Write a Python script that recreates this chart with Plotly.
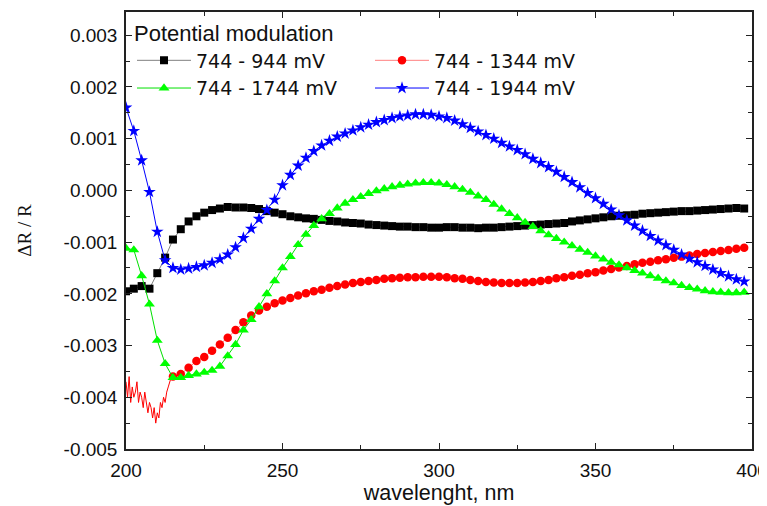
import numpy as np
import plotly.graph_objects as go

# wavelength grid (nm)
wl = np.arange(200, 400, 2.5)
wl_red_noise = np.arange(200, 215, 0.5)
wl_red = np.arange(215, 400, 2.5)

names = ["744 - 944 mV", "744 - 1344 mV", "744 - 1744 mV", "744 - 1944 mV"]
legend_title = "Potential modulation"

black = [
    -0.00195, -0.0019, -0.00185, -0.0019, -0.0016, -0.0013, -0.00095, -0.00075,
    -0.0006, -0.0005, -0.00043, -0.00038, -0.00035, -0.00032, -0.00033, -0.00033,
    -0.00034, -0.00036, -0.0004, -0.00043, -0.00046, -0.0005, -0.00052, -0.00054,
    -0.00055, -0.00057, -0.00059, -0.0006, -0.00062, -0.00063, -0.00064, -0.00066,
    -0.00067, -0.00068, -0.00069, -0.0007, -0.0007, -0.00071, -0.00071, -0.00072,
    -0.00072, -0.00071, -0.00071, -0.00072, -0.00072, -0.00073, -0.00072, -0.00072,
    -0.00071, -0.0007, -0.00069, -0.00068, -0.00067, -0.00066, -0.00065, -0.00064,
    -0.00063, -0.0006, -0.00058, -0.00056, -0.00054, -0.00052, -0.0005, -0.00049,
    -0.00048, -0.00047, -0.00045, -0.00044, -0.00043, -0.00042, -0.00041, -0.0004,
    -0.0004, -0.00039, -0.00038, -0.00037, -0.00036, -0.00035, -0.00034, -0.00035,
]

red_noise = [
    -0.0037, -0.0040, -0.0036, -0.0041, -0.0038, -0.0040, -0.0039, -0.0037,
    -0.0041, -0.0039, -0.0040, -0.0042, -0.0039, -0.0041, -0.0043, -0.0041,
    -0.0042, -0.0044, -0.0042, -0.0045, -0.0043, -0.0044, -0.0041, -0.0042,
    -0.0040, -0.0041, -0.0039, -0.0038, -0.0037, -0.0036,
]

red = [
    -0.0036, -0.00355, -0.00343, -0.0033, -0.00322, -0.0031, -0.00298, -0.00285,
    -0.0027, -0.00255, -0.00242, -0.00232, -0.00225, -0.00218, -0.00213, -0.00208,
    -0.00203, -0.00199, -0.00195, -0.00192, -0.00188, -0.00185, -0.00182, -0.00179,
    -0.00177, -0.00175, -0.00173, -0.00171, -0.0017, -0.00169, -0.00168, -0.00168,
    -0.00167, -0.00167, -0.00167, -0.00168, -0.0017, -0.00171, -0.00173, -0.00175,
    -0.00177, -0.00178, -0.00179, -0.00179, -0.00179, -0.00178, -0.00177, -0.00175,
    -0.00173, -0.0017, -0.00168, -0.00165, -0.00163, -0.0016, -0.00158, -0.00155,
    -0.00152, -0.00149, -0.00146, -0.00143, -0.0014, -0.00138, -0.00135, -0.00133,
    -0.0013, -0.00128, -0.00126, -0.00123, -0.00121, -0.00119, -0.00117, -0.00115,
    -0.00113, -0.00111,
]

green = [
    -0.00112, -0.00115, -0.00165, -0.0022, -0.0029, -0.00335, -0.00362, -0.00362,
    -0.00358, -0.00355, -0.00352, -0.00348, -0.0034, -0.0032, -0.00298, -0.0027,
    -0.0025, -0.00225, -0.002, -0.00175, -0.0015, -0.00128, -0.00105, -0.00085,
    -0.00068, -0.00055, -0.00045, -0.00034, -0.00025, -0.00018, -0.00012, -0.00006,
    -0.00001, 0.00003, 0.00007, 0.0001, 0.00012, 0.00014, 0.00015, 0.00015,
    0.00014, 0.00011, 0.00007, 0.00002, -0.00004, -0.00011, -0.00018, -0.00027,
    -0.00036, -0.00045, -0.00053, -0.00062, -0.0007, -0.00078, -0.00086, -0.00093,
    -0.001, -0.00107, -0.00114, -0.0012, -0.00127, -0.00133, -0.00139, -0.00144,
    -0.0015, -0.00155, -0.0016, -0.00165, -0.0017, -0.00175, -0.00179, -0.00184,
    -0.00188, -0.00191, -0.00194, -0.00196, -0.00197, -0.00198, -0.00198, -0.00197,
]

blue = [
    0.0016, 0.00115, 0.00058, -0.00003, -0.0008, -0.00135, -0.0015, -0.00153,
    -0.00151, -0.00148, -0.00145, -0.0014, -0.00133, -0.00124, -0.0011, -0.00092,
    -0.00074, -0.00055, -0.00038, -0.00018, 0.0001, 0.0003, 0.00048, 0.00063,
    0.00076, 0.00087, 0.00096, 0.00104, 0.0011, 0.00116, 0.00122, 0.00127,
    0.00132, 0.00136, 0.0014, 0.00143, 0.00145, 0.00147, 0.00147, 0.00146,
    0.00143, 0.0014, 0.00135, 0.00128, 0.00121, 0.00114, 0.00107, 0.001,
    0.00092, 0.00085, 0.00078, 0.0007, 0.00061, 0.00053, 0.00045, 0.00036,
    0.00026, 0.00016, 0.00006, -0.00005, -0.00015, -0.00026, -0.00037, -0.00048,
    -0.00058, -0.00068, -0.00078, -0.00088, -0.00097, -0.00106, -0.00115, -0.00124,
    -0.00132, -0.00139, -0.00146, -0.00153, -0.0016, -0.00166, -0.00172, -0.00176,
]

y_tickvals = [-0.005, -0.004, -0.003, -0.002, -0.001, 0.0, 0.001, 0.002, 0.003]
y_ticktext = ["-0.005", "-0.004", "-0.003", "-0.002", "-0.001", "0.000", "0.001", "0.002", "0.003"]
x_tickvals = [200, 250, 300, 350, 400]
x_ticktext = ["200", "250", "300", "350", "400"]

SANS = "Liberation Sans, Arial, sans-serif"
LEG = "DejaVu Sans, Liberation Sans, sans-serif"
SERIF = "Liberation Serif, Times New Roman, serif"

fig = go.Figure()

fig.add_trace(go.Scatter(
    x=wl, y=black, name=names[0], mode="lines+markers",
    line=dict(color="#808080", width=1),
    marker=dict(symbol="square", size=8, color="#000000"),
))
# noisy short-wavelength part of the red curve (thin line only)
fig.add_trace(go.Scatter(
    x=list(wl_red_noise) + [wl_red[0]], y=red_noise + [red[0]],
    mode="lines", line=dict(color="#ff0000", width=1),
    showlegend=False, hoverinfo="skip",
))
fig.add_trace(go.Scatter(
    x=wl_red, y=red, name=names[1], mode="lines+markers",
    line=dict(color="#ff8080", width=1),
    marker=dict(symbol="circle", size=8.5, color="#ff0000"),
))
fig.add_trace(go.Scatter(
    x=wl, y=green, name=names[2], mode="lines+markers",
    line=dict(color="#00e000", width=1),
    marker=dict(symbol="triangle-up", size=9.5, color="#00ff00"),
))
fig.add_trace(go.Scatter(
    x=wl, y=blue, name=names[3], mode="lines+markers",
    line=dict(color="#0000ff", width=1),
    marker=dict(symbol="star", size=9.5, color="#0000ff"),
))

axis_common = dict(
    showline=True, linewidth=1.5, linecolor="#222222", mirror="ticks",
    ticks="inside", ticklen=6, tickwidth=1.2, tickcolor="#222222",
    showgrid=False, zeroline=False,
    tickfont=dict(family=SANS, size=19, color="#111111"),
)

fig.update_xaxes(
    range=[200, 400], tickvals=x_tickvals, ticktext=x_ticktext,
    ticklabelstandoff=3, ticklabeloverflow="allow",
    minor=dict(dtick=25, tick0=200, ticks="inside", ticklen=4, tickcolor="#222222", showgrid=False),
    title=dict(text="wavelenght, nm", standoff=0,
               font=dict(family=SANS, size=21.5, color="#111111")),
    **axis_common,
)
fig.update_yaxes(
    range=[-0.005, 0.00345], tickvals=y_tickvals, ticktext=y_ticktext,
    ticklabelstandoff=3,
    minor=dict(dtick=0.0005, tick0=0, ticks="inside", ticklen=4, tickcolor="#222222", showgrid=False),
    title=dict(text="ΔR / R", standoff=27,
               font=dict(family=SERIF, size=19, color="#111111")),
    **axis_common,
)

# the page body has an 8px margin; the figure is sized to fit the 767x506 window
fig.update_layout(
    width=759, height=498,
    margin=dict(l=118, r=15, t=4, b=57, autoexpand=False),
    plot_bgcolor="white", paper_bgcolor="white",
    font=dict(family=SANS, color="#111111"),
    legend=dict(
        x=0.0096, y=0.998, xanchor="left", yanchor="top",
        orientation="h", entrywidth=169, entrywidthmode="pixels",
        itemwidth=54, tracegroupgap=0,
        font=dict(family=LEG, size=19, color="#111111"),
        title=dict(text=legend_title, side="top", font=dict(family=SANS, size=22, color="#111111")),
        bgcolor="rgba(0,0,0,0)",
    ),
)

fig.write_html("out.html")
